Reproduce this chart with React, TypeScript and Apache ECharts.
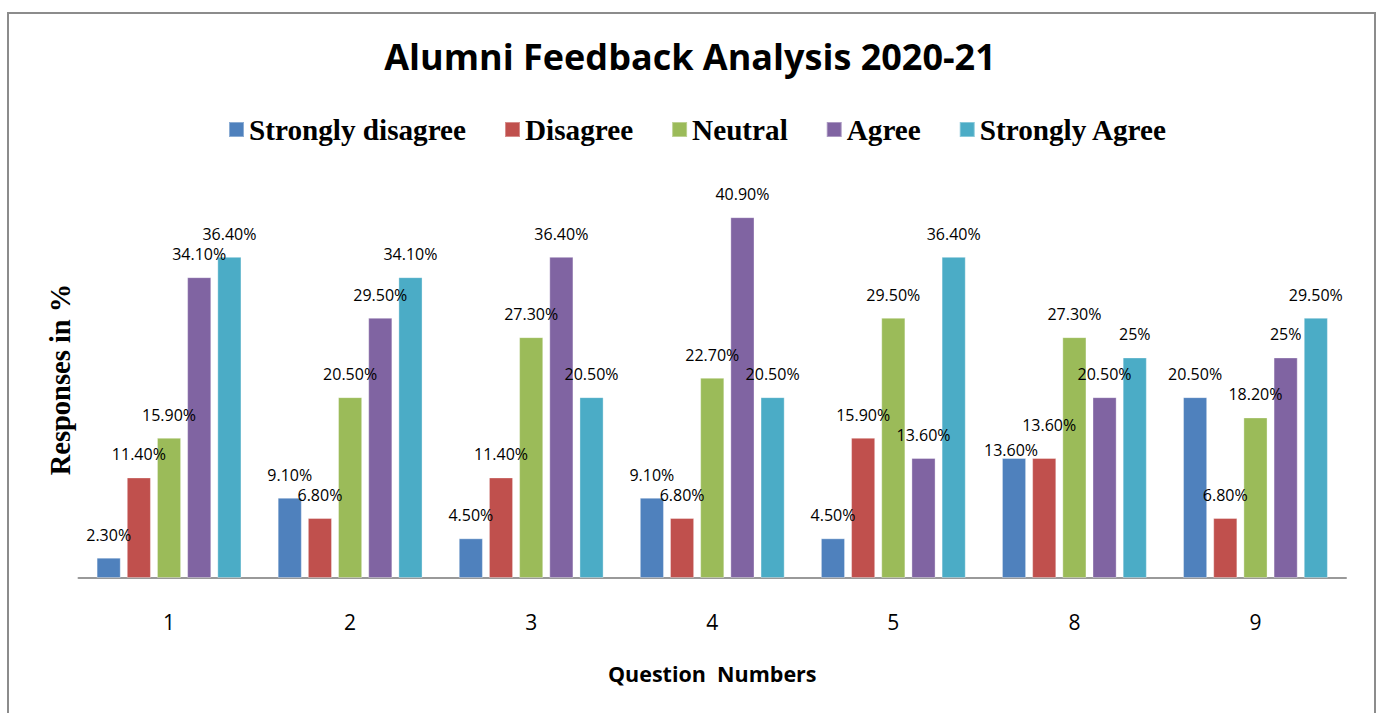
import React, { useEffect, useRef } from "react";
import * as echarts from "echarts";

const categories = ["1", "2", "3", "4", "5", "8", "9"];
const seriesNames = ["Strongly disagree", "Disagree", "Neutral", "Agree", "Strongly Agree"];
const stronglyDisagree = [2.3, 9.1, 4.5, 9.1, 4.5, 13.6, 20.5];
const disagree = [11.4, 6.8, 11.4, 6.8, 15.9, 13.6, 6.8];
const neutral = [15.9, 20.5, 27.3, 22.7, 29.5, 27.3, 18.2];
const agree = [34.1, 29.5, 36.4, 40.9, 13.6, 20.5, 25];
const stronglyAgree = [36.4, 34.1, 20.5, 20.5, 36.4, 25, 29.5];
const colors = ["#4F81BD", "#C0504D", "#9BBB59", "#8064A2", "#4BACC6"];

const seriesData = [stronglyDisagree, disagree, neutral, agree, stronglyAgree];

// label placement tweaks (series index, category index) -> label style overrides
const labelTweaks: Record<string, { distance: number; offset: [number, number] }> = {
  "0-5": { distance: 0, offset: [-3, 0] },
  "1-5": { distance: 25, offset: [5, 0] },
};

function fmt(v: number): string {
  return Number.isInteger(v) ? `${v}%` : `${v.toFixed(2)}%`;
}

export default function App() {
  const ref = useRef<HTMLDivElement>(null);
  useEffect(() => {
    if (!ref.current) return;
    const chart = echarts.init(ref.current, undefined, { renderer: "svg" });
    chart.setOption({
      animation: false,
      backgroundColor: "#ffffff",
      title: {
        text: "Alumni Feedback Analysis 2020-21",
        left: "center",
        top: 33,
        textStyle: {
          fontFamily: "Open Sans",
          fontWeight: "bold",
          fontSize: 36,
          color: "#000",
        },
      },
      legend: {
        left: 223,
        top: 110,
        itemWidth: 15,
        itemHeight: 15,
        itemGap: 38,
        icon: "rect",
        data: seriesNames,
        textStyle: {
          fontFamily: "Liberation Serif",
          fontWeight: "bold",
          fontSize: 29.2,
          color: "#000",
        },
      },
      graphic: [
        {
          type: "rect",
          shape: { x: 8, y: 13, width: 1367, height: 730 },
          style: { fill: "none", stroke: "#8c8c8c", lineWidth: 2 },
          silent: true,
        },
      ],
      grid: { left: 78.5, right: 34, top: 181, bottom: 713 - 578 },
      xAxis: {
        type: "category",
        data: categories,
        name: "Question  Numbers",
        nameLocation: "middle",
        nameGap: 84,
        nameTextStyle: {
          fontFamily: "Open Sans",
          fontWeight: "bold",
          fontSize: 21.5,
          color: "#000",
          verticalAlign: "top",
        },
        axisLine: { show: true, lineStyle: { color: "#999", width: 2 } },
        axisTick: { show: false },
        axisLabel: {
          margin: 33,
          fontFamily: "Open Sans",
          fontSize: 21,
          color: "#000",
        },
      },
      yAxis: {
        type: "value",
        min: 0,
        max: 45,
        name: "Responses in %",
        nameLocation: "middle",
        nameRotate: 90,
        nameGap: 4,
        nameTextStyle: {
          fontFamily: "Liberation Serif",
          fontWeight: "bold",
          fontSize: 28.5,
          color: "#000",
        },
        axisLine: { show: false },
        axisTick: { show: false },
        axisLabel: { show: false },
        splitLine: { show: false },
      },
      series: seriesNames.map((name, i) => ({
        name,
        type: "bar",
        data: seriesData[i].map((v, j) => {
          const t = labelTweaks[`${i}-${j}`];
          return t ? { value: v, label: { distance: t.distance, offset: t.offset } } : v;
        }),
        barGap: "25%",
        barCategoryGap: "20%",
        itemStyle: { color: colors[i], borderColor: "rgba(255,255,255,0.35)", borderWidth: 1 },
        label: {
          show: true,
          position: "top",
          distance: 15,
          fontFamily: "Open Sans",
          fontSize: 16,
          color: "#000",
          formatter: (p: any) => fmt(p.value),
        },
      })),
    });
    return () => chart.dispose();
  }, []);
  return (
    <div
      ref={ref}
      style={{ position: "absolute", left: 0, top: 0, width: 1380, height: 713 }}
    />
  );
}
